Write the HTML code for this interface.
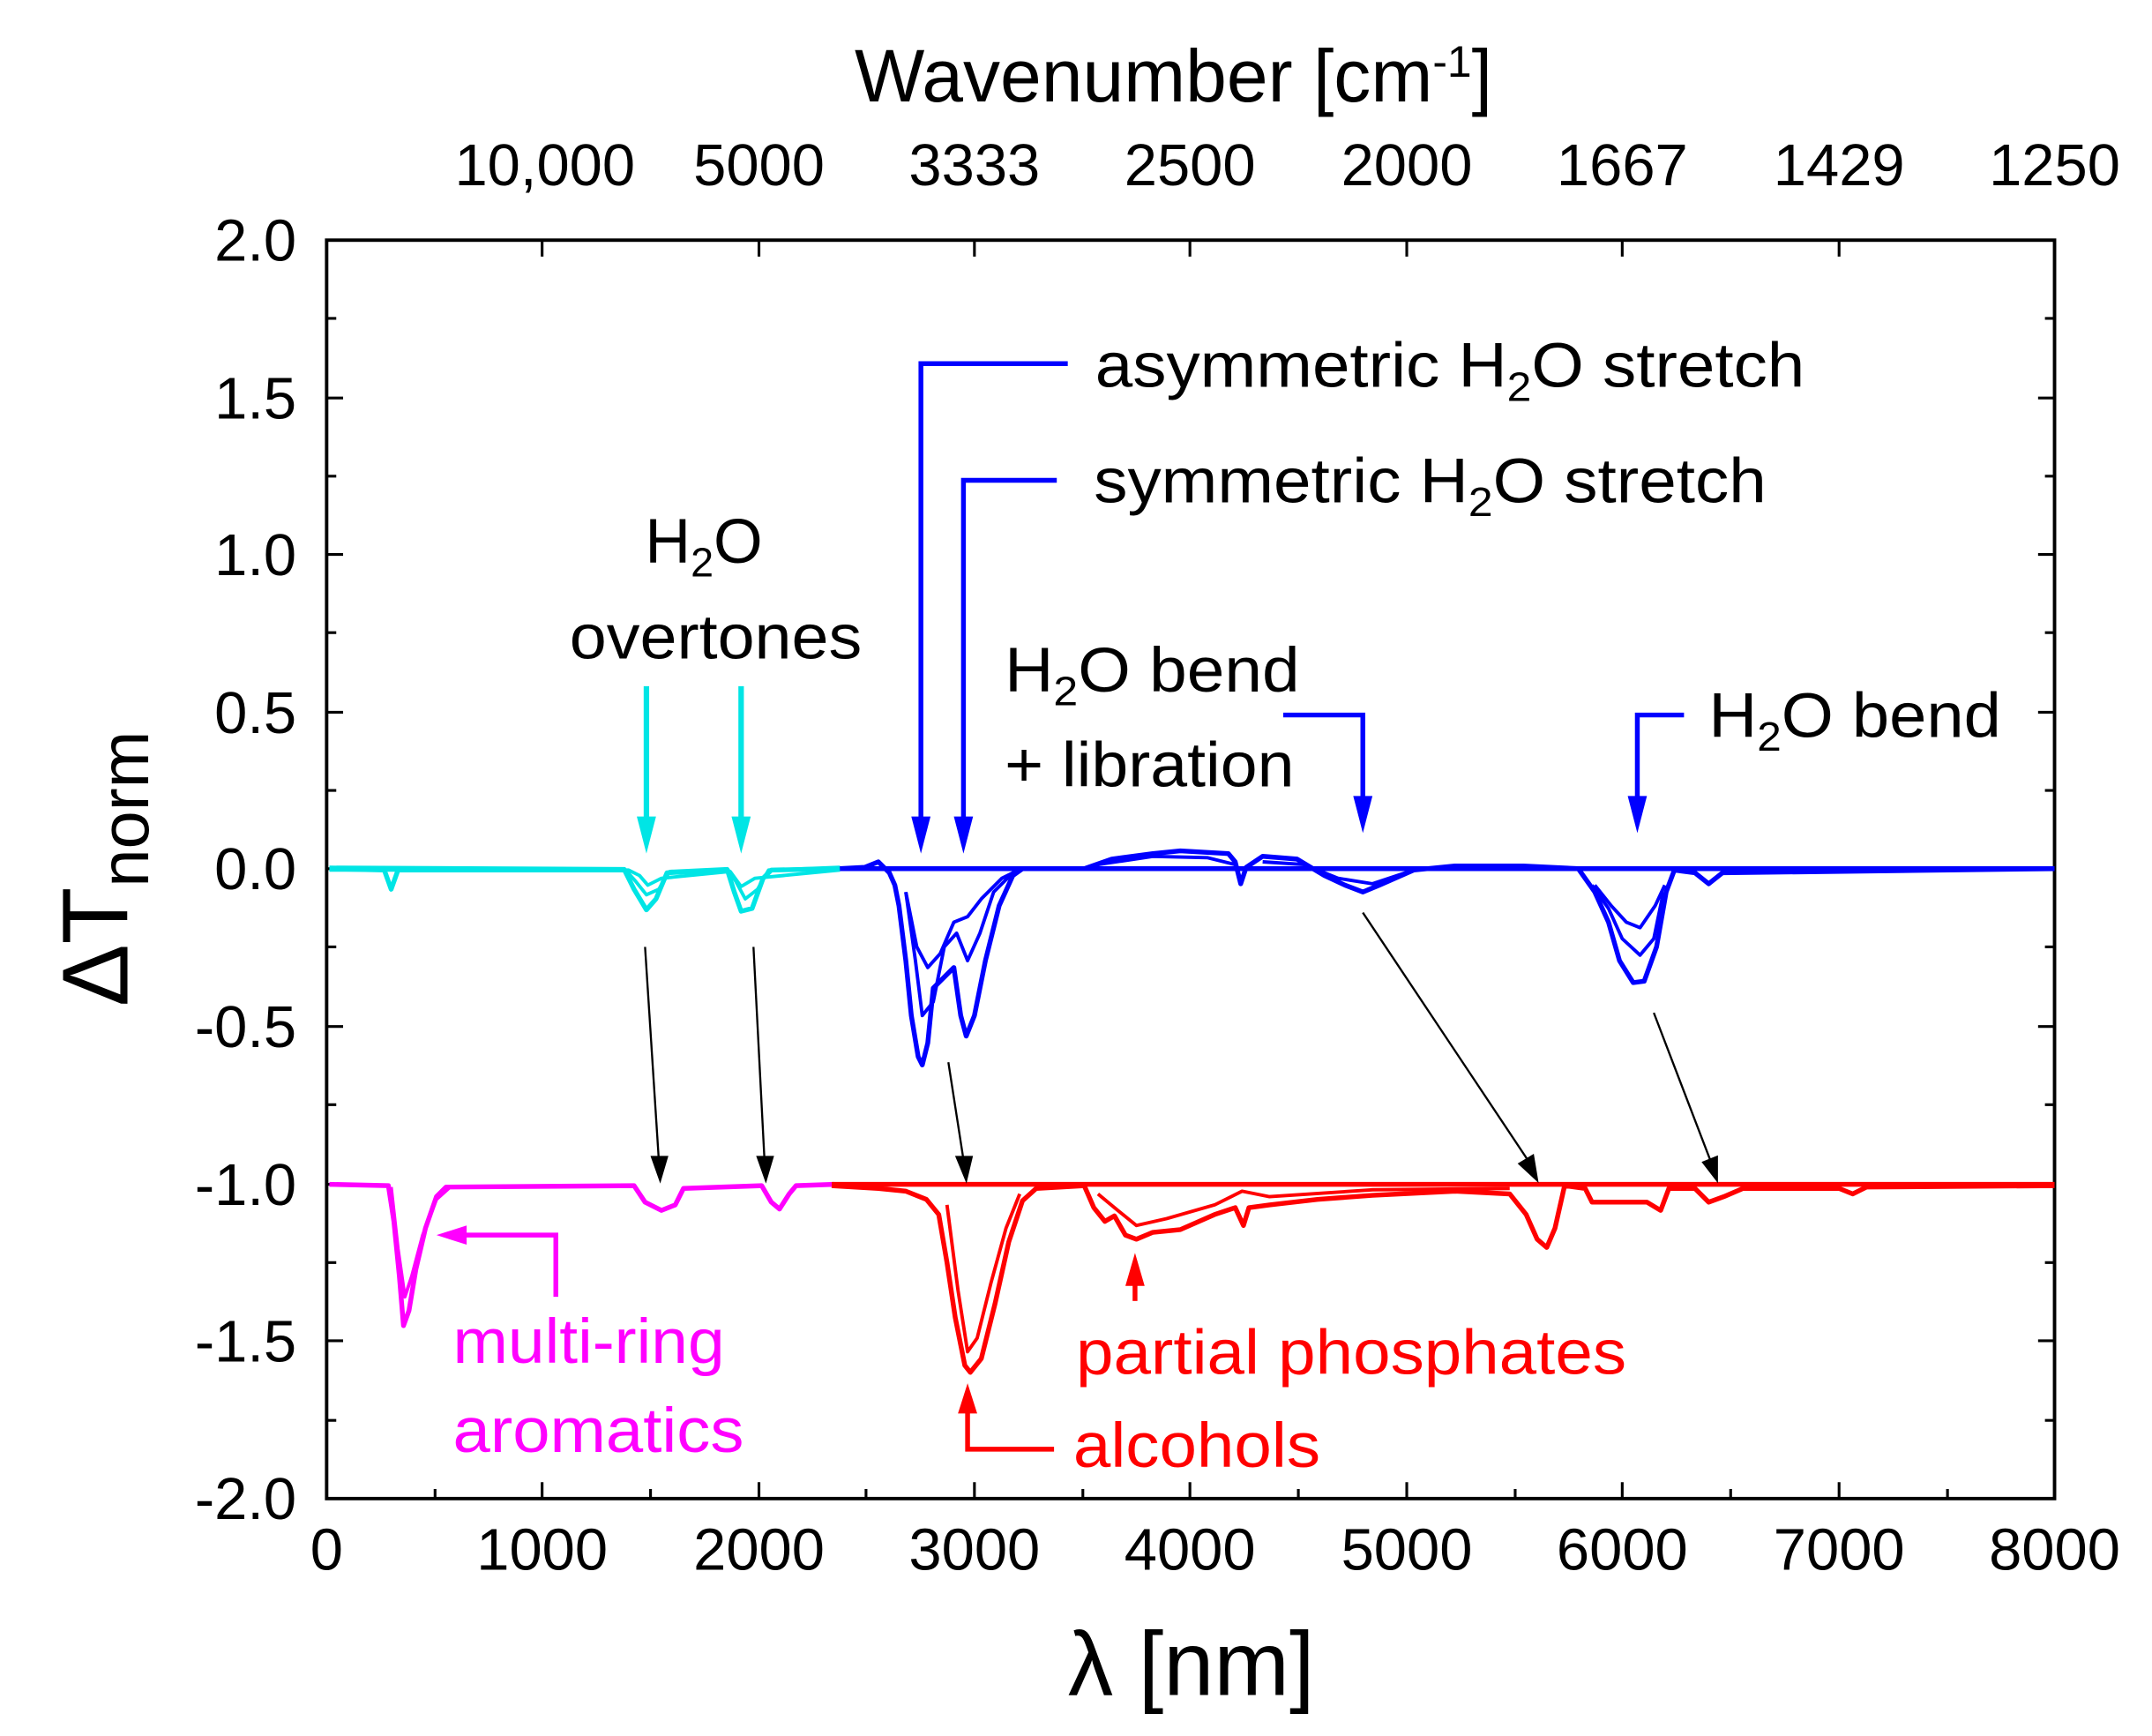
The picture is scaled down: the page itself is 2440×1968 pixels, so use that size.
<!DOCTYPE html>
<html><head><meta charset="utf-8"><style>html,body{margin:0;padding:0;background:#fff}svg{display:block}</style></head>
<body>
<svg width="2440" height="1968" viewBox="0 0 1568 1265" preserveAspectRatio="none" xmlns="http://www.w3.org/2000/svg" font-family="Liberation Sans, Arial, sans-serif">
<rect x="238" y="175" width="1259" height="917" fill="none" stroke="#000" stroke-width="2.5"/>
<g stroke="#000" stroke-width="2">
<path d="M395,1092v-12M553,1092v-12M710,1092v-12M867,1092v-12M1025,1092v-12M1182,1092v-12M1340,1092v-12
M317,1092v-7M474,1092v-7M631,1092v-7M789,1092v-7M946,1092v-7M1104,1092v-7M1261,1092v-7M1419,1092v-7
M395,175v12M553,175v12M710,175v12M867,175v12M1025,175v12M1182,175v12M1340,175v12
M238,290h12M238,404h12M238,519h12M238,633h12M238,748h12M238,863h12M238,977h12
M238,232h7M238,347h7M238,461h7M238,576h7M238,690h7M238,805h7M238,920h7M238,1035h7
M1497,290h-12M1497,404h-12M1497,519h-12M1497,633h-12M1497,748h-12M1497,863h-12M1497,977h-12
M1497,232h-7M1497,347h-7M1497,461h-7M1497,576h-7M1497,690h-7M1497,805h-7M1497,920h-7M1497,1035h-7"/>
</g>
<g font-size="43" text-anchor="end" fill="#000">
<text x="216" y="190">2.0</text><text x="216" y="305">1.5</text><text x="216" y="419">1.0</text>
<text x="216" y="534">0.5</text><text x="216" y="648">0.0</text><text x="216" y="763">-0.5</text>
<text x="216" y="878">-1.0</text><text x="216" y="992">-1.5</text><text x="216" y="1107">-2.0</text>
</g>
<g font-size="43" text-anchor="middle" fill="#000">
<text x="238" y="1144">0</text><text x="395" y="1144">1000</text><text x="553" y="1144">2000</text>
<text x="710" y="1144">3000</text><text x="867" y="1144">4000</text><text x="1025" y="1144">5000</text>
<text x="1182" y="1144">6000</text><text x="1340" y="1144">7000</text><text x="1497" y="1144">8000</text>
<text x="397" y="135">10,000</text><text x="553" y="135">5000</text><text x="710" y="135">3333</text>
<text x="867" y="135">2500</text><text x="1025" y="135">2000</text><text x="1182" y="135">1667</text>
<text x="1340" y="135">1429</text><text x="1497" y="135">1250</text>
<text x="855" y="74" font-size="54">Wavenumber [cm<tspan dy="-18" font-size="32">-1</tspan><tspan dy="18">]</tspan></text>
<text x="868" y="1235" font-size="66">λ [nm]</text>
</g>
<text transform="translate(93,633) rotate(-90)" font-size="68" text-anchor="middle">ΔT<tspan font-size="50" dy="15">norm</tspan></text>

<g fill="none" stroke-linejoin="round">
<g stroke="#00e5e5" stroke-width="3.5">
<path d="M240,633 L280,634 L285,648 L290,634 L455,634 L462,648 L471,663 L478,655 L486,636 L530,634 L535,650 L540,664 L548,662 L556,640 L562,634 L612,633"/>
<path d="M240,632 L455,633 L463,642 L471,652 L480,648 L488,635 L530,633 L536,642 L543,655 L552,648 L560,634 L612,632" stroke-width="2.5"/>
<path d="M240,634 L458,634 L466,638 L472,645 L482,640 L532,635 L540,646 L550,640 L612,634" stroke-width="2.5"/>
</g>
<g stroke="#0000ff" stroke-width="3.5">
<path d="M612,633 L1497,633"/>
<path d="M612,633 L630,632 L640,628 L648,636 L652,645 L655,660 L660,700 L664,740 L669,770 L672,776 L676,760 L680,720 L688,712 L695,705 L700,740 L704,755 L710,740 L718,700 L728,660 L738,638 L745,633 L790,633 L810,626 L840,622 L860,620 L895,622 L900,628 L904,644 L908,632 L920,624 L945,626 L965,638 L980,645 L993,650 L1005,645 L1030,634 L1060,631 L1110,631 L1150,633 L1162,650 L1172,672 L1180,700 L1190,716 L1198,715 L1207,690 L1214,650 L1220,634 L1235,636 L1245,644 L1255,636 L1497,633"/>
<path d="M660,650 L667,700 L672,740 L680,730 L688,690 L697,680 L705,700 L714,680 L724,650 L740,634" stroke-width="2.5"/>
<path d="M660,650 L668,690 L676,705 L685,695 L695,672 L705,668 L715,655 L730,640 L742,634" stroke-width="2.5"/>
<path d="M1160,645 L1172,662 L1182,684 L1195,696 L1205,684 L1212,650" stroke-width="2.5"/>
<path d="M1162,645 L1174,660 L1185,672 L1195,676 L1206,660 L1213,645" stroke-width="2.5"/>
<path d="M800,630 L840,624 L880,625 L900,630 M920,628 L950,630 L975,640 L1000,644 L1030,634" stroke-width="2.5"/>
</g>
<g stroke="#ff00ff" stroke-width="3.5">
<path d="M240,863 L283,864 L287,890 L291,930 L294,966 L298,955 L303,925 L310,895 L318,872 L325,865 L462,864 L470,876 L482,882 L492,878 L498,866 L555,864 L562,876 L568,881 L575,870 L580,864 L608,863"/>
<path d="M285,865 L290,910 L295,945 L300,930 L308,900 L318,874 L328,865" stroke-width="2.5"/>
</g>
<g stroke="#ff0000" stroke-width="3.5">
<path d="M606,863 L1497,863"/>
<path d="M606,864 L640,866 L660,868 L675,874 L684,885 L690,920 L696,960 L703,995 L707,1000 L715,990 L725,950 L735,905 L745,875 L755,866 L790,864 L797,880 L805,890 L812,886 L820,900 L828,903 L840,898 L860,896 L885,885 L900,880 L906,893 L910,880 L925,878 L960,874 L1000,871 L1060,868 L1100,870 L1112,885 L1120,903 L1127,909 L1133,895 L1140,864 L1155,866 L1160,876 L1200,876 L1210,882 L1216,866 L1235,866 L1245,876 L1256,872 L1270,866 L1340,866 L1350,870 L1360,865 L1497,864"/>
<path d="M800,870 L812,880 L828,893 L850,888 L885,878 L905,868 L925,872 L1000,867 L1100,866" stroke-width="2.5"/>
<path d="M690,878 L698,940 L705,985 L712,975 L722,935 L733,895 L743,870" stroke-width="2.5"/>
</g>
</g>

<g stroke="#000" stroke-width="1.5" fill="#000">
<line x1="470" y1="690" x2="480" y2="845"/><path d="M475,843 L486,843 L481,860 z"/>
<line x1="549" y1="690" x2="557" y2="845"/><path d="M552,843 L563,843 L558,860 z"/>
<line x1="691" y1="774" x2="702" y2="845"/><path d="M697,843 L708,843 L704,860 z"/>
<line x1="993" y1="665" x2="1113" y2="845"/><path d="M1107,848 L1117,842 L1120,860 z"/>
<line x1="1205" y1="738" x2="1246" y2="845"/><path d="M1241,847 L1251,843 L1251,860 z"/>
</g>

<g stroke="#00e5e5" stroke-width="4" fill="#00e5e5">
<line x1="471" y1="500" x2="471" y2="600"/><path d="M464,595 L478,595 L471,622 z" stroke="none"/>
<line x1="540" y1="500" x2="540" y2="600"/><path d="M533,595 L547,595 L540,622 z" stroke="none"/>
</g>
<g stroke="#0000ff" stroke-width="3.5" fill="none">
<path d="M778,265 H671 V600"/><path d="M770,350 H702 V600"/>
<path d="M935,521 H993 V585"/><path d="M1227,521 H1193 V585"/>
</g>
<g fill="#0000ff">
<path d="M664,595 L678,595 L671,622 z"/><path d="M695,595 L709,595 L702,622 z"/>
<path d="M986,580 L1000,580 L993,607 z"/><path d="M1186,580 L1200,580 L1193,607 z"/>
</g>
<g stroke="#ff00ff" stroke-width="3.5" fill="none"><path d="M405,945 V900 H335"/></g>
<path d="M318,900 L340,893 L340,907 z" fill="#ff00ff"/>
<g stroke="#ff0000" stroke-width="3.5" fill="none"><path d="M705,1025 V1056 H768"/><path d="M827,935 V948"/></g>
<path d="M705,1008 L698,1030 L712,1030 z" fill="#ff0000"/>
<path d="M827,913 L820,937 L834,937 z" fill="#ff0000"/>

<g font-size="46" fill="#000">
<text x="470" y="410">H<tspan font-size="30" dy="10">2</tspan><tspan dy="-10">O</tspan></text>
<text x="415" y="480" textLength="213" lengthAdjust="spacingAndGlyphs">overtones</text>
<text x="798" y="282" textLength="517" lengthAdjust="spacingAndGlyphs">asymmetric H<tspan font-size="30" dy="10">2</tspan><tspan dy="-10">O stretch</tspan></text>
<text x="797" y="366" textLength="490" lengthAdjust="spacingAndGlyphs">symmetric H<tspan font-size="30" dy="10">2</tspan><tspan dy="-10">O stretch</tspan></text>
<text x="732" y="504" textLength="215" lengthAdjust="spacingAndGlyphs">H<tspan font-size="30" dy="10">2</tspan><tspan dy="-10">O bend</tspan></text>
<text x="732" y="573" textLength="211" lengthAdjust="spacingAndGlyphs">+ libration</text>
<text x="1245" y="537" textLength="213" lengthAdjust="spacingAndGlyphs">H<tspan font-size="30" dy="10">2</tspan><tspan dy="-10">O bend</tspan></text>
</g>
<g font-size="46" fill="#ff00ff"><text x="330" y="993" textLength="198" lengthAdjust="spacingAndGlyphs">multi-ring</text><text x="330" y="1058" textLength="212" lengthAdjust="spacingAndGlyphs">aromatics</text></g>
<g font-size="46" fill="#ff0000"><text x="784" y="1001" textLength="401" lengthAdjust="spacingAndGlyphs">partial phosphates</text><text x="782" y="1069" textLength="180" lengthAdjust="spacingAndGlyphs">alcohols</text></g>
</svg>
</body></html>
